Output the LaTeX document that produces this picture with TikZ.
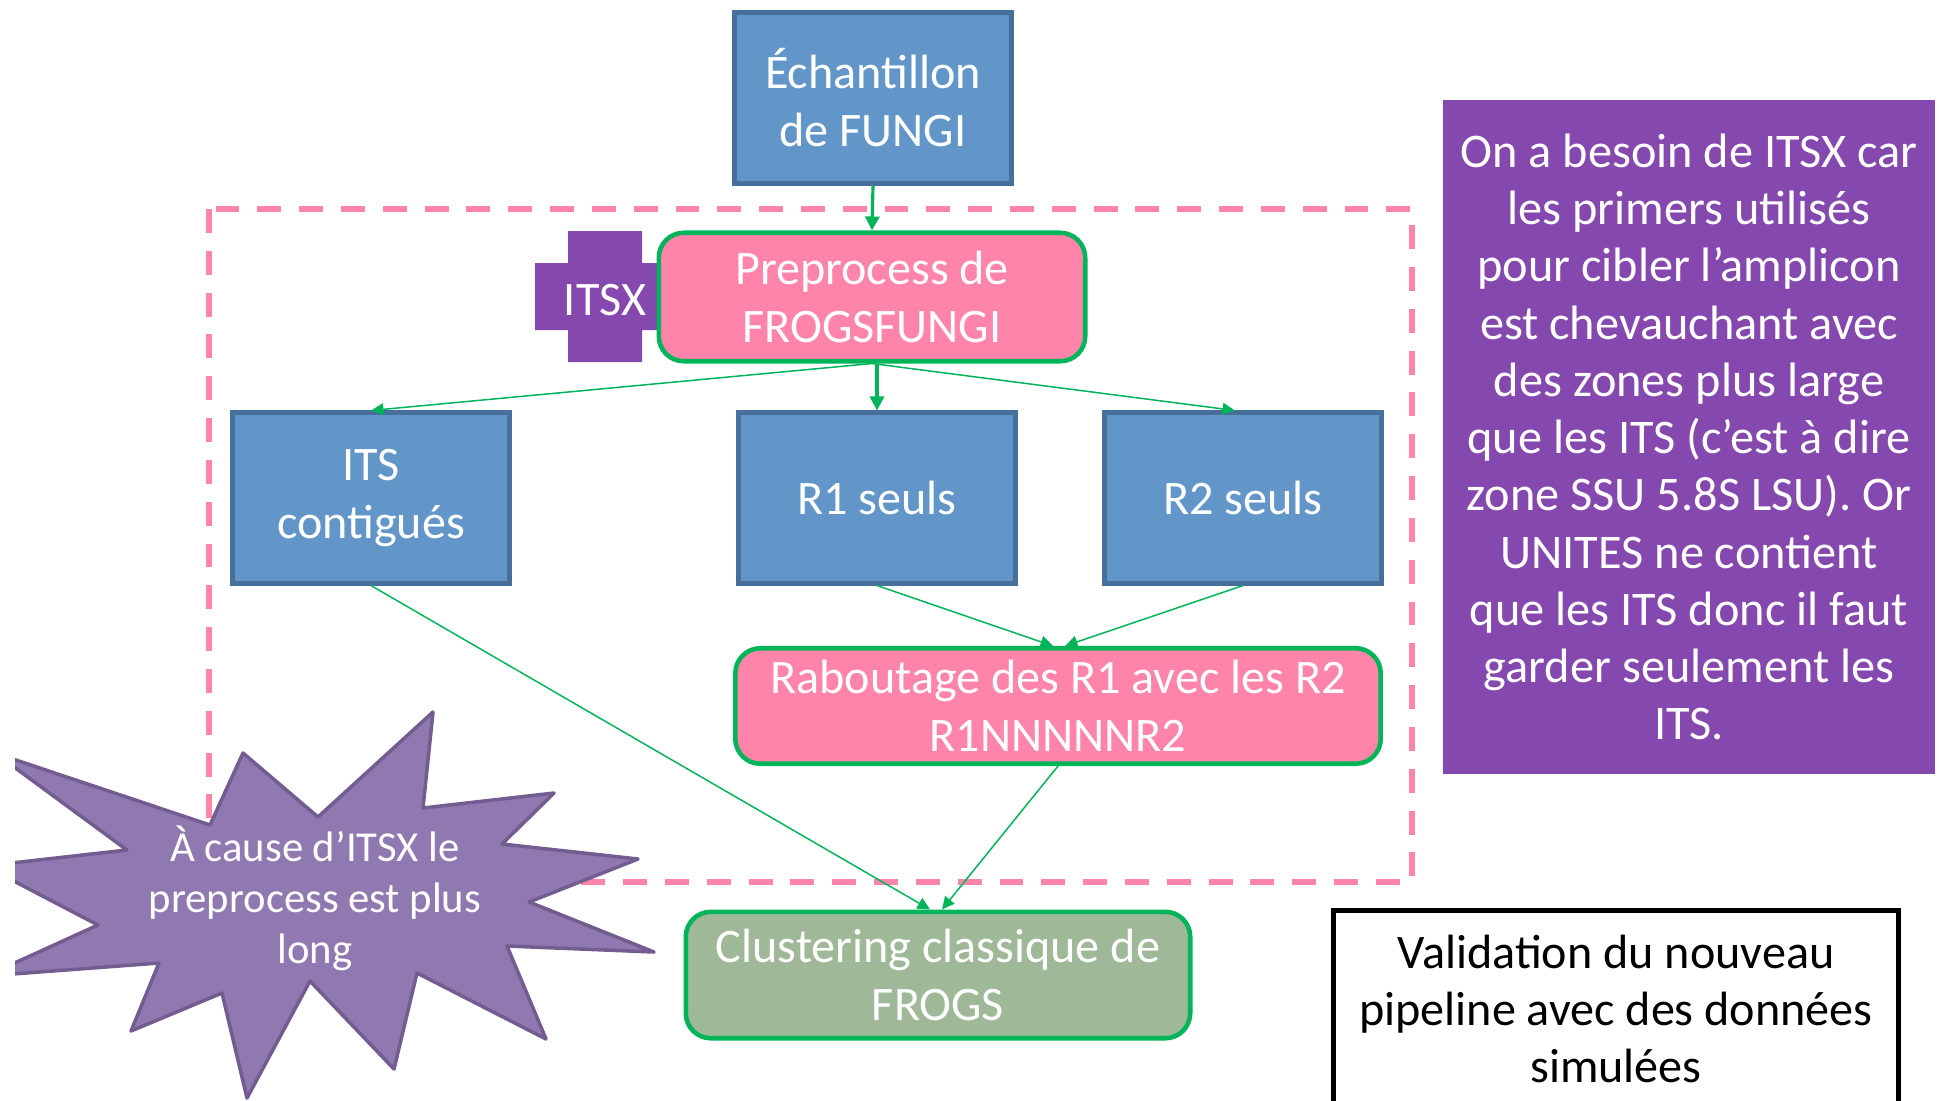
\documentclass[tikz,border=0pt]{standalone}
\usepackage{fontspec}
\setmainfont{Carlito}
\usetikzlibrary{arrows.meta,calc,positioning}

\definecolor{boxblue}{HTML}{6396C8}
\definecolor{boxblueline}{HTML}{476F9C}
\definecolor{frogspink}{HTML}{FF84A9}
\definecolor{frogsgreen}{HTML}{00B559}
\definecolor{clustgreen}{HTML}{9FB897}
\definecolor{itsxpurple}{HTML}{8548AE}
\definecolor{burstfill}{HTML}{9079B0}
\definecolor{burstline}{HTML}{735C90}

\begin{document}
\begin{tikzpicture}[x=0.02cm, y=-0.02cm,
    txt/.style={font=\fontsize{27.4}{33}\selectfont, align=center, inner sep=0pt},
    bluebox/.style={txt, draw=boxblueline, fill=boxblue, text=white, line width=2.6pt,
      minimum width=5.55cm, minimum height=3.41cm},
    pinkbox/.style={txt, draw=frogsgreen, fill=frogspink, text=white, line width=2.6pt,
      rounded corners=0.5cm},
    greenbox/.style={pinkbox, fill=clustgreen},
    flecha/.style={-{Triangle[length=0.25cm, width=0.24cm]}, frogsgreen, line width=0.85pt},
    flechagruesa/.style={flecha, line width=1.8pt, -{Triangle[length=0.28cm, width=0.28cm]}}]
  \useasboundingbox (0,0) rectangle (1939,1100);

  % Zone du preprocess (pointilles)
  \draw[frogspink, line width=3.1pt, dash pattern=on 13.6pt off 10.2pt]
    (209,209) rectangle (1412,882);

  % Croix ITSX
  \fill[itsxpurple] (568,231) -- (642,231) -- (642,263) -- (675,263) -- (675,330)
    -- (642,330) -- (642,362) -- (568,362) -- (568,330) -- (535,330) -- (535,263)
    -- (568,263) -- cycle;
  \node[txt, text=white] (itsx) at (605,300) {ITSX};

  % Etapes du pipeline
  \node[bluebox] (ech) at (873,98) {Échantillon\\de FUNGI};
  \node[pinkbox, minimum width=8.53cm, minimum height=2.57cm] (prep) at (872,297)
    {Preprocess de\\FROGSFUNGI};
  \node[bluebox] (its) at (371,498) {ITS\\contigués};
  \node[bluebox] (r1) at (877,498) {R1 seuls};
  \node[bluebox] (r2) at (1243,498) {R2 seuls};
  \node[pinkbox, minimum width=12.91cm, minimum height=2.31cm] (rab) at (1058,706)
    {Raboutage des R1 avec les R2\\R1NNNNNR2};
  \node[greenbox, minimum width=10.09cm, minimum height=2.53cm] (clust) at (938,975)
    {Clustering classique de\\FROGS};

  % Encadre violet
  \node[txt, font=\fontsize{27.5}{32.6}\selectfont, fill=itsxpurple, text=white,
    minimum width=9.84cm, minimum height=13.48cm] (note) at (1689,437)
    {On a besoin de ITSX car\\les primers utilisés\\pour cibler l’amplicon\\
     est chevauchant avec\\des zones plus large\\que les ITS (c’est à dire\\
     zone SSU 5.8S LSU). Or\\UNITES ne contient\\que les ITS donc il faut\\
     garder seulement les\\ITS.};

  % Validation
  \node[txt, draw=black, line width=2.6pt, font=\fontsize{27.4}{32.6}\selectfont,
    minimum width=11.3cm, minimum height=3.95cm] (valid) at (1616,1009)
    {Validation du nouveau\\pipeline avec des données\\simulées};

  % Fleches
  \draw[flechagruesa] (ech.south) -- (prep.north);
  \draw[flechagruesa] (prep.south -| r1.north) -- (r1.north);
  \draw[flecha] (prep.south) -- (its.north);
  \draw[flecha] (prep.south) -- ($(r2.north)+(-8,0)$);
  \draw[flecha] (its.south) -- ($(clust.north)+(-8,0)$);
  \draw[flecha] (r1.south) -- ($(rab.north)+(-5,0)$);
  \draw[flecha] (r2.south) -- ($(rab.north)+(7,0)$);
  \draw[flecha] (rab.south) -- ($(clust.north)+(4,0)$);

  % Etoile
  \begin{scope}
    \clip (15,0) rectangle (1939,1100);
    \draw[fill=burstfill, draw=burstline, line width=2pt, line join=round]
      (-5,753) -- (210,825) -- (243,753) -- (318,817) -- (433,712) -- (423,808)
      -- (554,793) -- (502,844) -- (638,859) -- (529,902) -- (654,952) -- (507,946)
      -- (546,1039) -- (417,973) -- (394,1069) -- (310,981) -- (247,1098)
      -- (222,993) -- (131,1031) -- (159,963) -- (-14,976) -- (98,925)
      -- (-15,866) -- (127,850) -- cycle;
  \end{scope}
  \node[txt, font=\fontsize{24.3}{29}\selectfont, text=white] (burst) at (315,898)
    {À cause d’ITSX le\\preprocess est plus\\long};
\end{tikzpicture}
\end{document}
